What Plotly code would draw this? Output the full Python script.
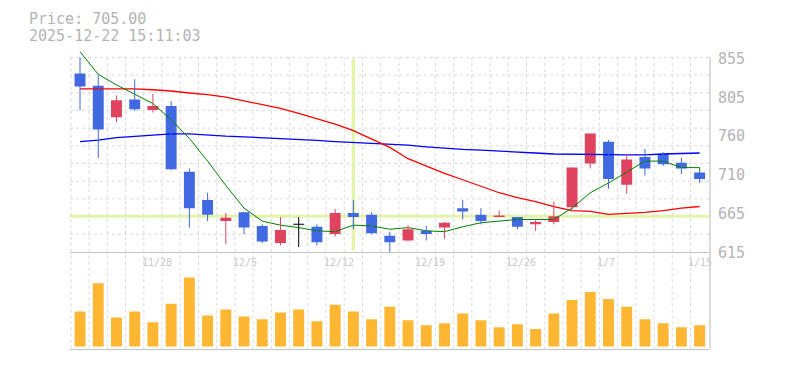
import plotly.graph_objects as go

# ---------------- data ----------------
dates = ['11/21', '11/25', '11/26', '11/27', '11/28', '12/1', '12/2', '12/3', '12/4', '12/5',
         '12/8', '12/9', '12/10', '12/11', '12/12', '12/15', '12/16', '12/17', '12/18', '12/19',
         '12/22', '12/23', '12/24', '12/25', '12/26', '12/29', '12/30', '1/5', '1/6', '1/7',
         '1/8', '1/9', '1/13', '1/14', '1/15']
open_ = [835, 820, 781, 803, 790, 795, 714, 679, 653, 664, 647, 626, 649, 646, 637, 663, 661, 635, 629, 641,
         645, 669, 661, 658, 658, 649, 652, 670, 724, 751, 698, 732, 736, 725, 713]
high = [855, 834, 808, 828, 810, 801, 718, 688, 663, 664, 649, 658, 658, 649, 668, 679, 664, 640, 648, 647,
        652, 679, 669, 666, 658, 655, 677, 719, 761, 753, 736, 742, 738, 731, 713]
low = [790, 731, 775, 789, 787, 716, 645, 653, 625, 637, 626, 623, 621, 623, 634, 643, 637, 615, 628, 629,
       631, 655, 649, 658, 643, 641, 649, 667, 718, 693, 687, 709, 721, 711, 700]
close = [819, 766, 802, 791, 795, 717, 669, 661, 657, 645, 628, 642, 649, 627, 663, 658, 638, 627, 643, 637,
         651, 665, 653, 660, 646, 652, 659, 719, 761, 705, 729, 718, 723, 718, 705]
volume = [36, 65, 30, 36, 25, 44, 71, 32, 38, 31, 28, 35, 38, 26, 43, 36, 28, 41, 27, 22,
          24, 34, 27, 20, 23, 18, 34, 48, 56, 49, 41, 28, 24, 20, 22]  # thousand shares
ma5 = [862, 834, 821, 809, 798, 778, 755, 727, 697, 669, 653, 648, 645, 641, 640, 648, 647, 643, 645, 641,
       640, 646, 651, 653, 655, 655, 655, 669, 688, 700, 714, 727, 727, 719, 719]
ma5_live = 713
ma25 = [816, 816, 816, 816, 815, 813.5, 811, 809, 806, 801.5, 797, 792, 786, 779, 772.6, 764.6, 754.7, 744, 730, 720.6,
        712, 704, 696, 688, 682, 677, 671, 666, 665, 661.4, 662.6, 663.8, 666, 669, 671]
ma75 = [751, 753, 756, 757.4, 759.4, 760.6, 760.6, 759, 757.8, 757, 756, 754.7, 753.8, 752.6, 751, 750, 748.7, 747.8, 746.6, 744.6,
        742.7, 741.5, 740.6, 739.1, 738, 737, 735.8, 735.8, 735.8, 735, 734.6, 734.6, 735.8, 736.6, 737]
tick_labels = ['11/28', '12/5', '12/12', '12/19', '12/26', '1/7', '1/15']
price_ticks = [615, 663, 711, 759, 807, 855]
price_tick_text = ['615', '665', '710', '760', '805', '855']
header_price = 'Price: 705.00'
header_time = '2025-12-22 15:11:03'
cross_date = '12/15'
cross_price = 659

# ---------------- layout constants ----------------
OFF_X, OFF_Y = 8, 0
W, H = 785 - OFF_X, 370 - OFF_Y
ML, MR = 70 - OFF_X, 75
X0, X1 = -0.55, 34.57
Y_LO, Y_HI = 615, 867
GRID_TOP = 855
N_HGRID = 11
PRICE_BOT_PX, PRICE_TOP_PX = 250.7, 40.7
VOL_BOT_PX, VOL_TOP_PX = 350, 250.7
VOL_RANGE = [-2000, 97300]
LABEL_NUDGE = -0.22


def frac(px):
    """page pixel (from top) -> paper fraction"""
    return 1 - (px - OFF_Y) / H


def xfrac(px):
    """page pixel (from left) -> paper fraction"""
    return (px - OFF_X - ML) / (W - ML - MR)


RED = '#e0435f'
BLUE = '#4169e1'
BLACK = '#000000'
GRID = '#dadada'
AXIS = '#c4c4c4'
TXT = '#b4b4b4'
LIME = '#e2f5a9'
MONO = 'DejaVu Sans Mono'

x = list(range(len(dates)))
up = [i for i in x if close[i] > open_[i]]
dn = [i for i in x if close[i] < open_[i]]
eq = [i for i in x if close[i] == open_[i]]

fig = go.Figure()

# moving averages (drawn beneath candles)
fig.add_trace(go.Scatter(x=x, y=ma75, mode='lines', line=dict(color='#0000ff', width=1.3)))
fig.add_trace(go.Scatter(x=x, y=ma25, mode='lines', line=dict(color='#ff0000', width=1.3)))
fig.add_trace(go.Scatter(x=x + [x[-1]], y=ma5 + [ma5_live], mode='lines', line=dict(color='#008000', width=1)))

# candles
for idxs, col in ((up, RED), (dn, BLUE), (eq, BLACK)):
    wx, wy = [], []
    for i in idxs:
        wx += [i, i, None]
        wy += [low[i], high[i], None]
    fig.add_trace(go.Scatter(x=wx, y=wy, mode='lines', line=dict(color=col, width=1)))
    base = [min(open_[i], close[i]) if close[i] != open_[i] else open_[i] - 0.6 for i in idxs]
    hgt = [abs(close[i] - open_[i]) if close[i] != open_[i] else 1.2 for i in idxs]
    fig.add_trace(go.Bar(x=idxs, y=hgt, base=base, width=0.6,
                         marker=dict(color=col, line=dict(width=0))))

# volume
fig.add_trace(go.Bar(x=x, y=[v * 1000 for v in volume], width=0.6, xaxis='x2', yaxis='y2',
                     marker=dict(color='#ffb733', line=dict(width=0))))

shapes = []
# horizontal dashed grid (price panel)
for k in range(1, N_HGRID + 1):
    yv = Y_LO + k * (GRID_TOP - Y_LO) / N_HGRID
    shapes.append(dict(type='line', xref='paper', yref='y', x0=0, x1=1, y0=yv, y1=yv,
                       line=dict(color=GRID, width=1, dash='3px,3px'), layer='below'))
# vertical dashed grid (both panels)
for i in x:
    g = i - 0.5
    shapes.append(dict(type='line', xref='x', yref='y', x0=g, x1=g, y0=Y_LO, y1=GRID_TOP,
                       line=dict(color=GRID, width=1, dash='3px,3px'), layer='below'))
    shapes.append(dict(type='line', xref='x2', yref='y2 domain', x0=g, x1=g, y0=0, y1=1,
                       line=dict(color=GRID, width=1, dash='3px,3px'), layer='below'))
# crosshair
ci = dates.index(cross_date)
shapes.append(dict(type='line', xref='x', yref='y', x0=ci, x1=ci, y0=Y_LO + 2, y1=GRID_TOP - 1,
                   line=dict(color=LIME, width=3.3), layer='below'))
shapes.append(dict(type='line', xref='paper', yref='y', x0=0, x1=1, y0=cross_price, y1=cross_price,
                   line=dict(color=LIME, width=3), layer='below'))
# right border
shapes.append(dict(type='line', xref='paper', yref='paper', x0=1, x1=1,
                   y0=frac(VOL_BOT_PX), y1=frac(50.7), line=dict(color=AXIS, width=1.2)))

annotations = []
for lbl in tick_labels:
    annotations.append(dict(x=dates.index(lbl) - 0.5 + LABEL_NUDGE, xref='x', y=frac(262), yref='paper',
                            text=lbl, showarrow=False, xanchor='left', yanchor='middle',
                            font=dict(family=MONO, size=10, color='#c8c8c8')))
annotations.append(dict(x=xfrac(28), xref='paper', y=frac(11.5), yref='paper', borderpad=0,
                        text=header_price, showarrow=False, xanchor='left', yanchor='middle',
                        font=dict(family=MONO, size=15, color=TXT)))
annotations.append(dict(x=xfrac(28), xref='paper', y=frac(28.5), yref='paper', borderpad=0,
                        text=header_time, showarrow=False, xanchor='left', yanchor='middle',
                        font=dict(family=MONO, size=15, color=TXT)))

fig.update_layout(
    width=W, height=H,
    margin=dict(l=ML, r=MR, t=0, b=0),
    paper_bgcolor='white', plot_bgcolor='white',
    showlegend=False, barmode='overlay', hovermode=False,
    xaxis=dict(domain=[0, 1], range=[X0, X1], anchor='y', showgrid=False, zeroline=False,
               showline=True, linecolor=AXIS, linewidth=1, showticklabels=False, ticks=''),
    xaxis2=dict(domain=[0, 1], range=[X0, X1], anchor='y2', showgrid=False, zeroline=False,
                showline=True, linecolor=AXIS, linewidth=1.2, showticklabels=False, ticks=''),
    yaxis=dict(domain=[frac(PRICE_BOT_PX), frac(PRICE_TOP_PX)], range=[Y_LO, Y_HI], side='right',
               anchor='x', tickmode='array', tickvals=price_ticks, ticktext=price_tick_text,
               showgrid=False, zeroline=False, showline=False, ticks='',
               tickfont=dict(family=MONO, size=15, color=TXT), ticklabelstandoff=7,
               ticklabelshift=1),
    yaxis2=dict(domain=[frac(VOL_BOT_PX), frac(VOL_TOP_PX)], range=VOL_RANGE, anchor='x2',
                showgrid=False, zeroline=False, showline=False, showticklabels=False, ticks=''),
    shapes=shapes, annotations=annotations,
)

fig.write_html('out.html', config=dict(displayModeBar=False, staticPlot=True))
